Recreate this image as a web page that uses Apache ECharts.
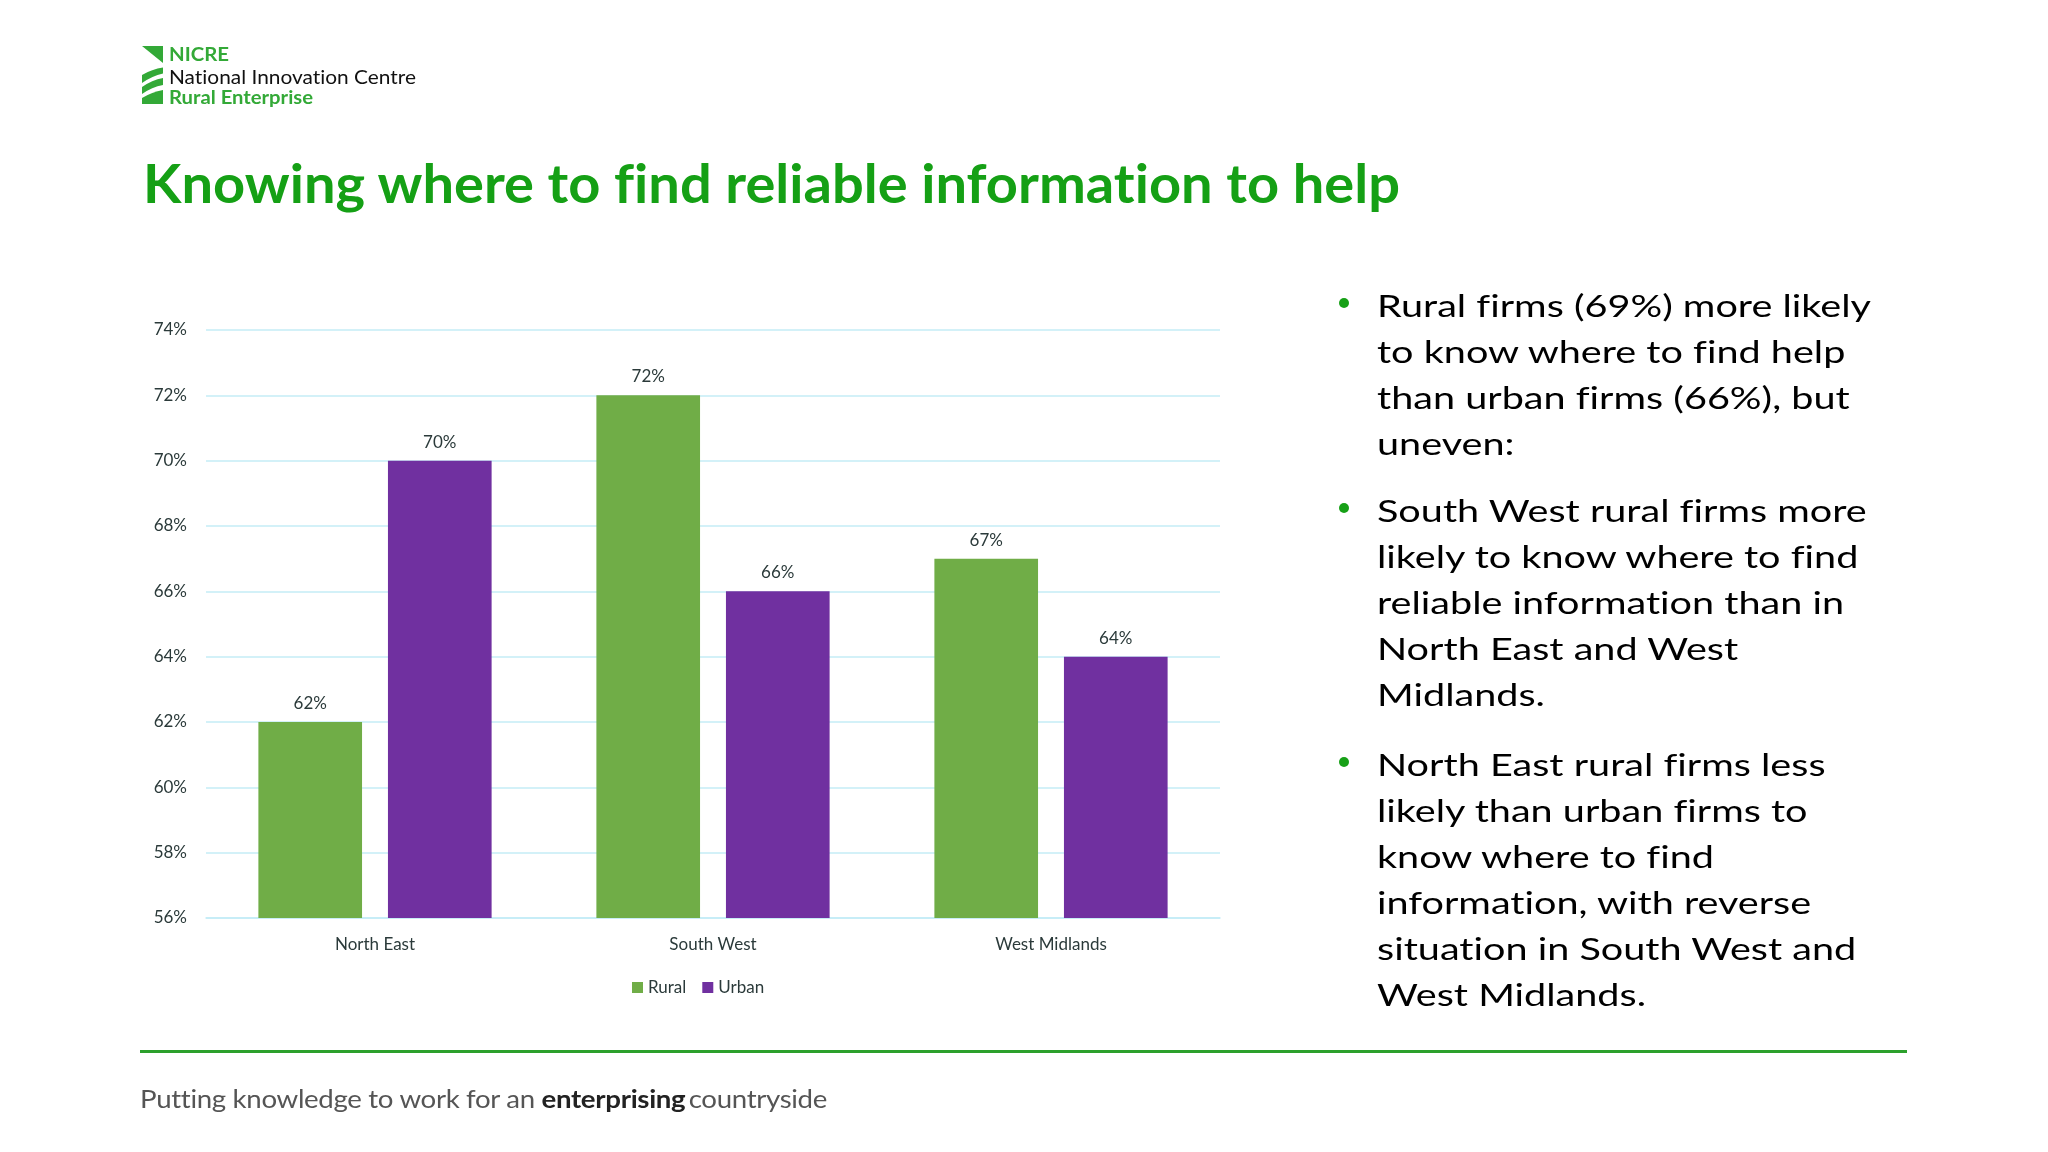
<!DOCTYPE html>
<html>
<head>
<meta charset="utf-8">
<script src="https://cdn.jsdelivr.net/npm/echarts@6/dist/echarts.min.js"></script>
<style>
  html, body { margin:0; padding:0; background:#fff; }
  body { width:2048px; height:1152px; position:relative; overflow:hidden; }
  #chart { position:absolute; left:0; top:0; width:2048px; height:1152px; }
  .t { position:absolute; white-space:nowrap; line-height:normal; transform-origin:0 0; pointer-events:none; font-variant-ligatures:none; font-feature-settings:"liga" 0; }
  .bm { display:inline-block; width:0; height:0; vertical-align:baseline; }
  .dot { position:absolute; width:10px; height:10px; border-radius:50%; background:#17a017; }
</style>
</head>
<body>
<div id="chart"></div>
<svg style="position:absolute;left:0;top:0" width="200" height="120">
  <polygon points="142,46 163,46 163,63" fill="#33a937"/>
  <path d="M142,75 Q152,69 163,67.5 L163,73.5 Q152,76 142,83 Z" fill="#33a937"/>
  <path d="M142,87 Q152,80 163,78 L163,85 Q152,87 142,94 Z" fill="#33a937"/>
  <path d="M142,98 Q152,92 163,90 L163,104 L142,104 Z" fill="#33a937"/>
</svg>
<div style="position:absolute;left:140px;top:1050px;width:1767px;height:3px;background:#2ca02c"></div>
<script>
// ---- chart data ----
const categories = ['North East', 'South West', 'West Midlands'];
const seriesNames = ['Rural', 'Urban'];
const rural = [62, 72, 67];
const urban = [70, 66, 64];
const yMin = 56, yMax = 74, yStep = 2;

// ---- slide text ----
const titleText = 'Knowing where to find reliable information to help';
const bullets = [
  ['Rural firms (69%) more likely', 'to know where to find help', 'than urban firms (66%), but', 'uneven:'],
  ['South West rural firms more', 'likely to know where to find', 'reliable information than in', 'North East and West', 'Midlands.'],
  ['North East rural firms less', 'likely than urban firms to', 'know where to find', 'information, with reverse', 'situation in South West and', 'West Midlands.']
];
const bulletBaselines = [
  [317, 363, 409, 455],
  [522, 568, 614, 660, 706],
  [776, 822, 868, 914, 960, 1006]
];

function place(html, x, baseline, css, targetW, scaleOverride) {
  const d = document.createElement('div');
  d.className = 't';
  d.style.cssText += css;
  d.style.left = x + 'px';
  d.style.top = '0px';
  d.innerHTML = html + '<span class="bm"></span>';
  document.body.appendChild(d);
  const bm = d.querySelector('.bm');
  d.style.top = (baseline - bm.offsetTop) + 'px';
  const w = d.getBoundingClientRect().width;
  let s = scaleOverride || (targetW ? targetW / w : 1);
  d.style.transform = 'scaleX(' + s + ')';
  return { el: d, w: w, s: s };
}

const green = '#33a937';
// logo text
place('NICRE', 169, 61, 'font-family:Lato;font-weight:bold;font-size:19.5px;color:' + green + ';', 60);
place('National Innovation Centre', 169, 83.5, 'font-family:Lato;font-size:18.5px;color:#111;', 247);
place('Rural Enterprise', 169, 104, 'font-family:Lato;font-weight:bold;font-size:18.5px;color:' + green + ';', 144);

// title
place(titleText, 143, 203, 'font-family:Lato;font-weight:bold;font-size:53px;color:#15a015;', 1257);

// bullets
const bcss = 'font-family:Lato;font-size:31.5px;color:#000;';
const ref = place(bullets[0][0], 1377, bulletBaselines[0][0], bcss, 494);
for (let p = 0; p < bullets.length; p++) {
  for (let i = 0; i < bullets[p].length; i++) {
    if (p === 0 && i === 0) continue;
    place(bullets[p][i], 1377, bulletBaselines[p][i], bcss, null, ref.s);
  }
  const dot = document.createElement('div');
  dot.className = 'dot';
  dot.style.left = (1344 - 5) + 'px';
  dot.style.top = (bulletBaselines[p][0] - 14 - 5) + 'px';
  document.body.appendChild(dot);
}

// footer
place('Putting knowledge to work for an <b style="color:#222">enterprising</b><span style="margin-left:3px">countryside</span>',
  140, 1108, 'font-family:Lato;font-size:25px;color:#555;letter-spacing:-0.3px;', 687);

// ---- chart ----
const labelColor = '#2b3a3a';
const gridColor = '#c4ecf6';
const chart = echarts.init(document.getElementById('chart'), null, { renderer: 'canvas' });
chart.setOption({
  animation: false,
  textStyle: { fontFamily: 'Lato' },
  grid: { left: 206, right: 828, top: 330, bottom: 234, containLabel: false },
  legend: {
    data: seriesNames,
    left: 627, top: 974,
    icon: 'rect', itemWidth: 11, itemHeight: 11, itemGap: 16,
    textStyle: { fontSize: 17, color: labelColor, fontFamily: 'Lato' }
  },
  xAxis: {
    type: 'category',
    data: categories,
    axisLine: { show: true, lineStyle: { color: gridColor, width: 1.5 } },
    axisTick: { show: false },
    axisLabel: { fontSize: 17, color: labelColor, margin: 18, fontFamily: 'Lato' }
  },
  yAxis: {
    type: 'value',
    min: yMin, max: yMax, interval: yStep,
    axisLine: { show: false },
    axisTick: { show: false },
    axisLabel: { formatter: '{value}%', fontSize: 17, color: labelColor, margin: 19, fontFamily: 'Lato' },
    splitLine: { lineStyle: { color: gridColor, width: 1.5 } }
  },
  series: [
    {
      name: seriesNames[0], type: 'bar', data: rural,
      barGap: '25%', barCategoryGap: '31%',
      itemStyle: { color: '#70ad47' },
      label: { show: true, position: 'top', distance: 10, formatter: '{c}%', fontSize: 17, color: labelColor, fontFamily: 'Lato' }
    },
    {
      name: seriesNames[1], type: 'bar', data: urban,
      barGap: '25%', barCategoryGap: '31%',
      itemStyle: { color: '#7030a0' },
      label: { show: true, position: 'top', distance: 10, formatter: '{c}%', fontSize: 17, color: labelColor, fontFamily: 'Lato' }
    }
  ]
});
</script>
</body>
</html>
